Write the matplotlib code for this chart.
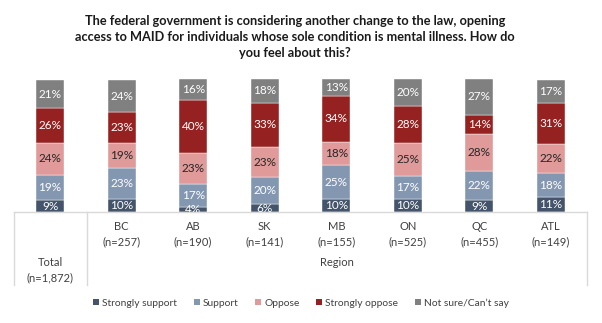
import matplotlib
matplotlib.use("Agg")
import matplotlib.pyplot as plt
from matplotlib.lines import Line2D
from matplotlib.patches import Patch

plt.rcParams['font.family'] = ['Lato', 'DejaVu Sans']

title = ("The federal government is considering another change to the law, opening\n"
         "access to MAID for individuals whose sole condition is mental illness. How do\n"
         "you feel about this?")

groups = ["Total", "BC", "AB", "SK", "MB", "ON", "QC", "ATL"]
sizes = ["n=1,872", "n=257", "n=190", "n=141", "n=155", "n=525", "n=455", "n=149"]

series_names = ["Strongly support", "Support", "Oppose", "Strongly oppose", "Not sure/Can\u2019t say"]
strongly_support = [9, 10, 4, 6, 10, 10, 9, 11]
support = [19, 23, 17, 20, 25, 17, 22, 18]
oppose = [24, 19, 23, 23, 18, 25, 28, 22]
strongly_oppose = [26, 23, 40, 33, 34, 28, 14, 31]
not_sure = [21, 24, 16, 18, 13, 20, 27, 17]

colors = ["#44546A", "#8497B0", "#DF9A99", "#952221", "#808080"]
text_colors = ["white", "white", "#262626", "white", "white"]

W, H = 602, 323
fig = plt.figure(figsize=(W / 100, H / 100), dpi=100)

# bar area in pixel coordinates
ax_l, ax_r, ax_t, ax_b = 14, 587, 79, 212
ax = fig.add_axes([ax_l / W, 1 - ax_b / H, (ax_r - ax_l) / W, (ax_b - ax_t) / H])

series = [strongly_support, support, oppose, strongly_oppose, not_sure]
x = list(range(len(groups)))
bottoms = [0] * len(groups)
for vals, col, tc in zip(series, colors, text_colors):
    ax.bar(x, vals, bottom=bottoms, width=0.39, color=col,
           edgecolor="white", linewidth=0.3, zorder=2)
    for xi, b, v in zip(x, bottoms, vals):
        ax.text(xi, b + v / 2, f"{v}%", ha="center", va="center",
                fontsize=8.5, color=tc, clip_on=True, zorder=3)
    bottoms = [b + v for b, v in zip(bottoms, vals)]

ax.set_xlim(-0.503, len(groups) - 1 + 0.503)
ax.set_ylim(0, 100)
ax.set_xticks([])
ax.set_yticks([])
for s in ["top", "left", "right"]:
    ax.spines[s].set_visible(False)
ax.spines["bottom"].set_color("#D9D9D9")
ax.spines["bottom"].set_linewidth(1.0)
ax.patch.set_alpha(0)

# category table below the bars
line_kw = dict(color="#D9D9D9", linewidth=1.0)
for px in (ax_l, 87, ax_r):
    fig.add_artist(Line2D([px / W, px / W], [1 - ax_b / H, 1 - 285 / H], **line_kw))

for xi, (g, n) in enumerate(zip(groups, sizes)):
    px = ax_l + (xi + 0.503) / (len(groups) - 1 + 1.006) * (ax_r - ax_l)
    ypx = 270 if xi == 0 else 234
    fig.text(px / W, 1 - ypx / H, f"{g}\n({n})", ha="center", va="center",
             fontsize=8, color="#404040", linespacing=1.45)

fig.text(337 / W, 1 - 263 / H, "Region", ha="center", va="center",
         fontsize=8, color="#404040")

fig.text(0.49, 1 - 37 / H, title, ha="center", va="center", fontsize=9.2,
         fontweight="bold", color="#1a1a1a", linespacing=1.42)

handles = [Patch(facecolor=c, edgecolor="none") for c in colors]
fig.legend(handles, series_names, loc="center", bbox_to_anchor=(0.5, 1 - 303 / H),
           ncol=5, frameon=False, fontsize=7.4, handlelength=0.6, handleheight=0.6,
           handletextpad=0.3, columnspacing=1.6, labelcolor="#404040")

fig.savefig("out.png", dpi=100)
